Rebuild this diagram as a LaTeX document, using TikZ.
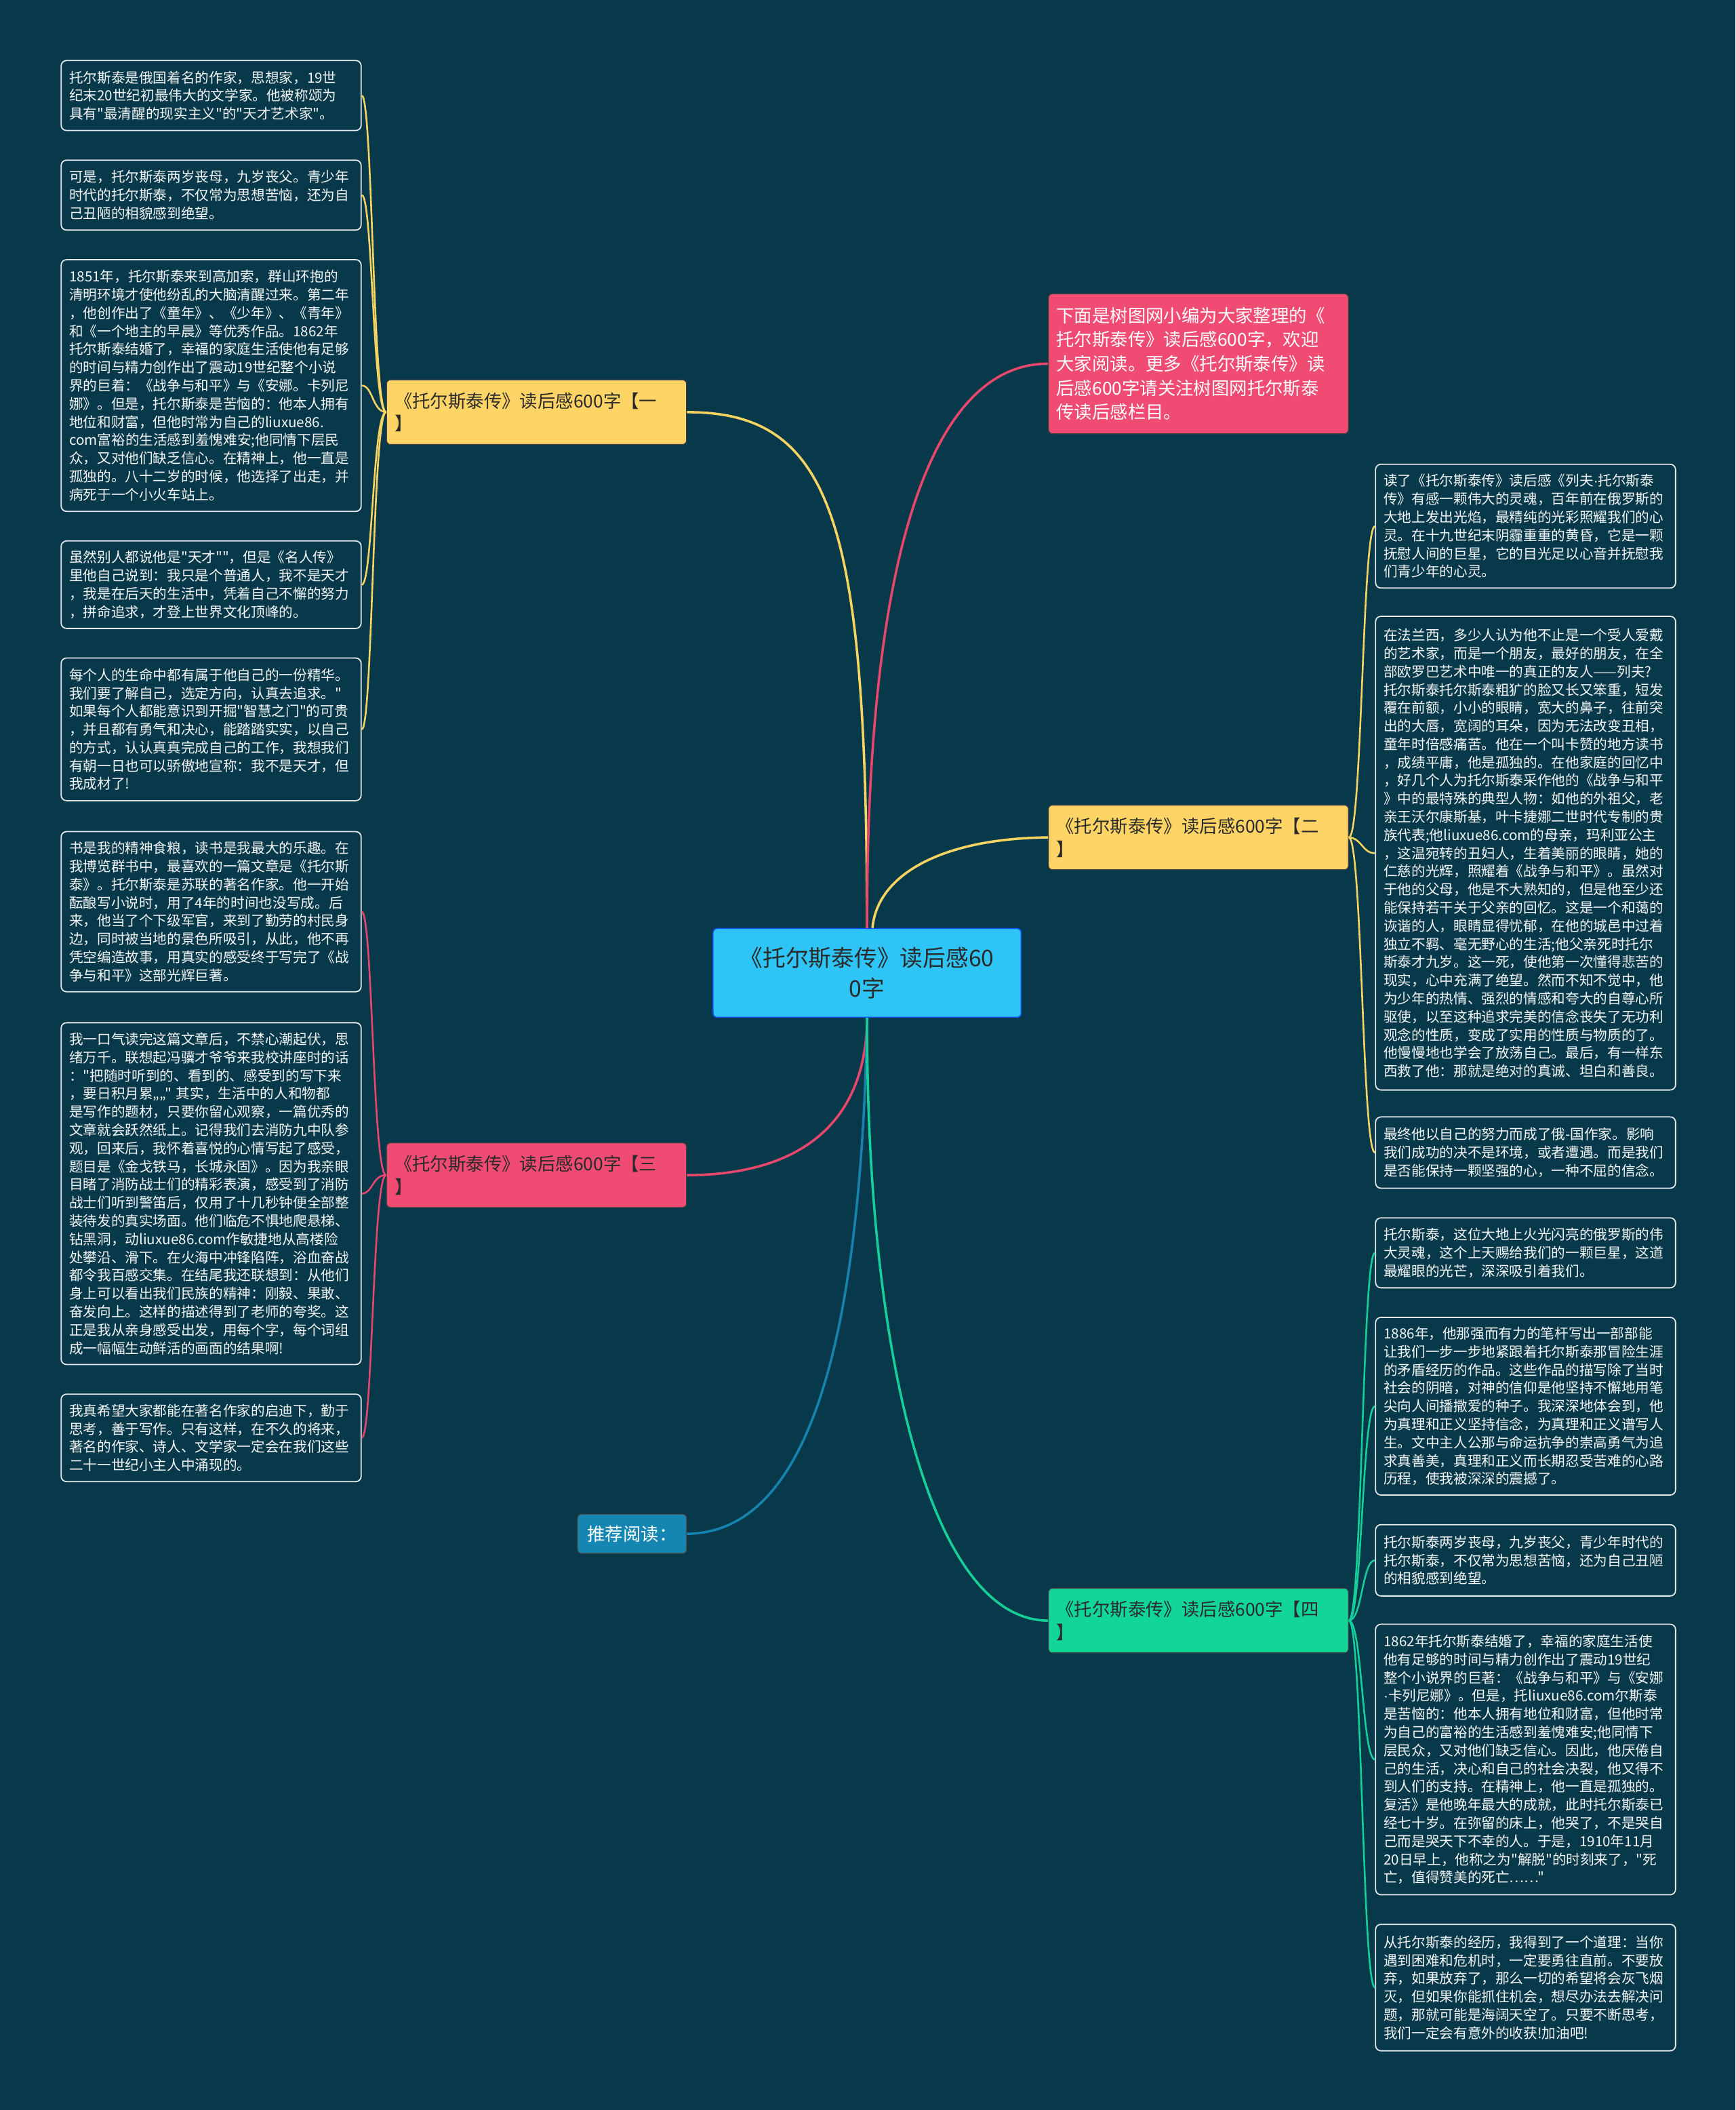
\documentclass[tikz,border=0pt]{standalone}
\usepackage{fontspec}
\setmainfont{Noto Sans CJK SC}[Ligatures=TeXOff]
\newfontfamily\latf{Liberation Sans}
\newcommand{\mdot}{{\latf ·}}
\definecolor{bg}{HTML}{07394A}
\definecolor{leafborder}{HTML}{E4E8EA}
\definecolor{leaftext}{HTML}{F4F6F7}
\definecolor{cyellow}{HTML}{FFD466}
\definecolor{cred}{HTML}{F04B72}
\definecolor{cgreen}{HTML}{12D598}
\definecolor{cblue}{HTML}{2EC5F6}
\definecolor{crec}{HTML}{1486B1}
\definecolor{lyellow}{HTML}{F7D462}
\definecolor{lred}{HTML}{E8466D}
\definecolor{lgreen}{HTML}{15CF98}
\definecolor{lblue}{HTML}{1583AE}
\definecolor{tdark}{HTML}{2A2A2A}
\tikzset{
  leaf/.style={draw=leafborder, line width=0.9pt, rounded corners=4pt, fill=bg,
    text=leaftext, font=\fontsize{10.4}{13.5}\selectfont, text width=211pt,
    align=left, inner xsep=6pt, inner ysep=0pt, minimum width=223pt, anchor=west},
  branch/.style={draw=black!75, line width=0.6pt, rounded corners=3pt,
    font=\fontsize{13.3}{17}\selectfont, text width=211pt, align=left,
    inner xsep=6pt, inner ysep=0pt, minimum width=223pt, minimum height=48pt,
    anchor=north west, text=tdark},
  mainlink/.style={line width=1.8pt},
  leaflink/.style={line width=1.3pt}
}
\begin{document}
\begin{tikzpicture}[x=1pt,y=-1pt]
\fill[bg] (0,0) rectangle (1290,1568);
\useasboundingbox (0,0) rectangle (1290,1568);

% center
\node[draw=blue!60!cblue, line width=0.8pt, fill=cblue, rounded corners=3pt,
  minimum width=229pt, minimum height=66pt, align=center, text=tdark,
  font=\fontsize{17}{23}\selectfont, inner sep=0pt] (c) at (644.5,723)
  {《托尔斯泰传》读后感60\\0字};

% branches
\node[branch, fill=cyellow] (b1) at (287,282) {《托尔斯泰传》读后感600字【一\\】};
\node[branch, fill=cred, text=white, minimum height=104pt,
  font=\fontsize{13.3}{18}\selectfont] (intro) at (779,218)
  {下面是树图网小编为大家整理的《\\托尔斯泰传》读后感600字，欢迎\\大家阅读。更多《托尔斯泰传》读\\后感600字请关注树图网托尔斯泰\\传读后感栏目。};
\node[branch, fill=cyellow] (b2) at (779,598) {《托尔斯泰传》读后感600字【二\\】};
\node[branch, fill=cred] (b3) at (287,849) {《托尔斯泰传》读后感600字【三\\】};
\node[branch, fill=cgreen, minimum height=48pt] (b4) at (779,1180) {《托尔斯泰传》读后感600字【四\\】};
\node[draw=black!70, line width=0.6pt, rounded corners=3pt, fill=crec, text=white,
  font=\fontsize{13.3}{17}\selectfont, minimum width=81pt, minimum height=29pt,
  inner sep=0pt, anchor=north west] (rec) at (429,1125) {推荐阅读：};

% left leaves
\node[leaf, minimum height=52pt] (l1) at (45,71) {托尔斯泰是俄国着名的作家，思想家，19世\\纪末20世纪初最伟大的文学家。他被称颂为\\具有"最清醒的现实主义"的"天才艺术家"。};
\node[leaf, minimum height=52pt] (l2) at (45,145) {可是，托尔斯泰两岁丧母，九岁丧父。青少年\\时代的托尔斯泰，不仅常为思想苦恼，还为自\\己丑陋的相貌感到绝望。};
\node[leaf, minimum height=187pt] (l3) at (45,286.5) {1851年，托尔斯泰来到高加索，群山环抱的\\清明环境才使他纷乱的大脑清醒过来。第二年\\，他创作出了《童年》、《少年》、《青年》\\和《一个地主的早晨》等优秀作品。1862年\\托尔斯泰结婚了，幸福的家庭生活使他有足够\\的时间与精力创作出了震动19世纪整个小说\\界的巨着：《战争与和平》与《安娜。卡列尼\\娜》。但是，托尔斯泰是苦恼的：他本人拥有\\地位和财富，但他时常为自己的liuxue86.\\com富裕的生活感到羞愧难安;他同情下层民\\众，又对他们缺乏信心。在精神上，他一直是\\孤独的。八十二岁的时候，他选择了出走，并\\病死于一个小火车站上。};
\node[leaf, minimum height=65pt] (l4) at (45,434.5) {虽然别人都说他是"天才""，但是《名人传》\\里他自己说到：我只是个普通人，我不是天才\\，我是在后天的生活中，凭着自己不懈的努力\\，拼命追求，才登上世界文化顶峰的。};
\node[leaf, minimum height=106pt] (l5) at (45,542) {每个人的生命中都有属于他自己的一份精华。\\我们要了解自己，选定方向，认真去追求。"\\如果每个人都能意识到开掘"智慧之门"的可贵\\，并且都有勇气和决心，能踏踏实实，以自己\\的方式，认认真真完成自己的工作，我想我们\\有朝一日也可以骄傲地宣称：我不是天才，但\\我成材了!};
\node[leaf, minimum height=119pt] (l6) at (45,677.5) {书是我的精神食粮，读书是我最大的乐趣。在\\我博览群书中，最喜欢的一篇文章是《托尔斯\\泰》。托尔斯泰是苏联的著名作家。他一开始\\酝酿写小说时，用了4年的时间也没写成。后\\来，他当了个下级军官，来到了勤劳的村民身\\边，同时被当地的景色所吸引，从此，他不再\\凭空编造故事，用真实的感受终于写完了《战\\争与和平》这部光辉巨著。};
\node[leaf, minimum height=254pt] (l7) at (45,887) {我一口气读完这篇文章后，不禁心潮起伏，思\\绪万千。联想起冯骥才爷爷来我校讲座时的话\\："把随时听到的、看到的、感受到的写下来\\，要日积月累„„"\ 其实，生活中的人和物都\\是写作的题材，只要你留心观察，一篇优秀的\\文章就会跃然纸上。记得我们去消防九中队参\\观，回来后，我怀着喜悦的心情写起了感受，\\题目是《金戈铁马，长城永固》。因为我亲眼\\目睹了消防战士们的精彩表演，感受到了消防\\战士们听到警笛后，仅用了十几秒钟便全部整\\装待发的真实场面。他们临危不惧地爬悬梯、\\钻黑洞，动liuxue86.com作敏捷地从高楼险\\处攀沿、滑下。在火海中冲锋陷阵，浴血奋战\\都令我百感交集。在结尾我还联想到：从他们\\身上可以看出我们民族的精神：刚毅、果敢、\\奋发向上。这样的描述得到了老师的夸奖。这\\正是我从亲身感受出发，用每个字，每个词组\\成一幅幅生动鲜活的画面的结果啊!};
\node[leaf, minimum height=65pt] (l8) at (45,1068.5) {我真希望大家都能在著名作家的启迪下，勤于\\思考，善于写作。只有这样，在不久的将来，\\著名的作家、诗人、文学家一定会在我们这些\\二十一世纪小主人中涌现的。};

% right leaves
\node[leaf, minimum height=92pt] (r1) at (1022,391) {读了《托尔斯泰传》读后感《列夫\mdot 托尔斯泰\\传》有感一颗伟大的灵魂，百年前在俄罗斯的\\大地上发出光焰，最精纯的光彩照耀我们的心\\灵。在十九世纪末阴霾重重的黄昏，它是一颗\\抚慰人间的巨星，它的目光足以心音并抚慰我\\们青少年的心灵。};
\node[leaf, minimum height=352pt] (r2) at (1022,634) {在法兰西，多少人认为他不止是一个受人爱戴\\的艺术家，而是一个朋友，最好的朋友，在全\\部欧罗巴艺术中唯一的真正的友人——列夫?\\托尔斯泰托尔斯泰粗犷的脸又长又笨重，短发\\覆在前额，小小的眼睛，宽大的鼻子，往前突\\出的大唇，宽阔的耳朵，因为无法改变丑相，\\童年时倍感痛苦。他在一个叫卡赞的地方读书\\，成绩平庸，他是孤独的。在他家庭的回忆中\\，好几个人为托尔斯泰采作他的《战争与和平\\》中的最特殊的典型人物：如他的外祖父，老\\亲王沃尔康斯基，叶卡捷娜二世时代专制的贵\\族代表;他liuxue86.com的母亲，玛利亚公主\\，这温宛转的丑妇人，生着美丽的眼睛，她的\\仁慈的光辉，照耀着《战争与和平》。虽然对\\于他的父母，他是不大熟知的，但是他至少还\\能保持若干关于父亲的回忆。这是一个和蔼的\\诙谐的人，眼睛显得忧郁，在他的城邑中过着\\独立不羁、毫无野心的生活;他父亲死时托尔\\斯泰才九岁。这一死，使他第一次懂得悲苦的\\现实，心中充满了绝望。然而不知不觉中，他\\为少年的热情、强烈的情感和夸大的自尊心所\\驱使，以至这种追求完美的信念丧失了无功利\\观念的性质，变成了实用的性质与物质的了。\\他慢慢地也学会了放荡自己。最后，有一样东\\西救了他：那就是绝对的真诚、坦白和善良。};
\node[leaf, minimum height=53pt] (r3) at (1022,856.5) {最终他以自己的努力而成了俄-国作家。影响\\我们成功的决不是环境，或者遭遇。而是我们\\是否能保持一颗坚强的心，一种不屈的信念。};
\node[leaf, minimum height=52pt] (r4) at (1022,931) {托尔斯泰，这位大地上火光闪亮的俄罗斯的伟\\大灵魂，这个上天赐给我们的一颗巨星，这道\\最耀眼的光芒，深深吸引着我们。};
\node[leaf, minimum height=132pt] (r5) at (1022,1045) {1886年，他那强而有力的笔杆写出一部部能\\让我们一步一步地紧跟着托尔斯泰那冒险生涯\\的矛盾经历的作品。这些作品的描写除了当时\\社会的阴暗，对神的信仰是他坚持不懈地用笔\\尖向人间播撒爱的种子。我深深地体会到，他\\为真理和正义坚持信念，为真理和正义谱写人\\生。文中主人公那与命运抗争的崇高勇气为追\\求真善美，真理和正义而长期忍受苦难的心路\\历程，使我被深深的震撼了。};
\node[leaf, minimum height=53pt] (r6) at (1022,1159.5) {托尔斯泰两岁丧母，九岁丧父，青少年时代的\\托尔斯泰，不仅常为思想苦恼，还为自己丑陋\\的相貌感到绝望。};
\node[leaf, minimum height=201pt] (r7) at (1022,1307.5) {1862年托尔斯泰结婚了，幸福的家庭生活使\\他有足够的时间与精力创作出了震动19世纪\\整个小说界的巨著：《战争与和平》与《安娜\\\mdot 卡列尼娜》。但是，托liuxue86.com尔斯泰\\是苦恼的：他本人拥有地位和财富，但他时常\\为自己的富裕的生活感到羞愧难安;他同情下\\层民众，又对他们缺乏信心。因此，他厌倦自\\己的生活，决心和自己的社会决裂，他又得不\\到人们的支持。在精神上，他一直是孤独的。\\复活》是他晚年最大的成就，此时托尔斯泰已\\经七十岁。在弥留的床上，他哭了，不是哭自\\己而是哭天下不幸的人。于是，1910年11月\\20日早上，他称之为"解脱"的时刻来了，"死\\亡，值得赞美的死亡……"};
\node[leaf, minimum height=94pt] (r8) at (1022,1477) {从托尔斯泰的经历，我得到了一个道理：当你\\遇到困难和危机时，一定要勇往直前。不要放\\弃，如果放弃了，那么一切的希望将会灰飞烟\\灭，但如果你能抓住机会，想尽办法去解决问\\题，那就可能是海阔天空了。只要不断思考，\\我们一定会有意外的收获!加油吧!};

% main connectors
\draw[mainlink, lyellow] (c.north) .. controls (644,390) and (620,306) .. (b1.east);
\draw[mainlink, lred] (c.north) .. controls (644,390) and (700,270) .. (intro.west);
\draw[mainlink, lyellow] ([xshift=4pt]c.north) .. controls (652,650) and (700,623) .. (b2.west);
\draw[mainlink, lred] (c.south) .. controls (644,830) and (600,873) .. (b3.east);
\draw[mainlink, lblue] (c.south) .. controls (640,1000) and (600,1139) .. (rec.east);
\draw[mainlink, lgreen] (c.south) .. controls (644,1000) and (690,1204) .. (b4.west);

% leaf connectors left
\foreach \n/\y in {l1/71, l2/145, l3/286.5, l4/434.5, l5/542}
  \draw[leaflink, lyellow] (b1.west) .. controls (277,306) and (277,\y) .. (\n.east);
\foreach \n/\y in {l6/677.5, l7/887, l8/1068.5}
  \draw[leaflink, lred] (b3.west) .. controls (277,873) and (277,\y) .. (\n.east);
% leaf connectors right
\foreach \n/\y in {r1/391, r2/634, r3/856.5}
  \draw[leaflink, lyellow] (b2.east) .. controls (1012.5,623) and (1012.5,\y) .. (\n.west);
\foreach \n/\y in {r4/931, r5/1045, r6/1159.5, r7/1307.5, r8/1477}
  \draw[leaflink, lgreen] (b4.east) .. controls (1012.5,1204) and (1012.5,\y) .. (\n.west);
\end{tikzpicture}
\end{document}
